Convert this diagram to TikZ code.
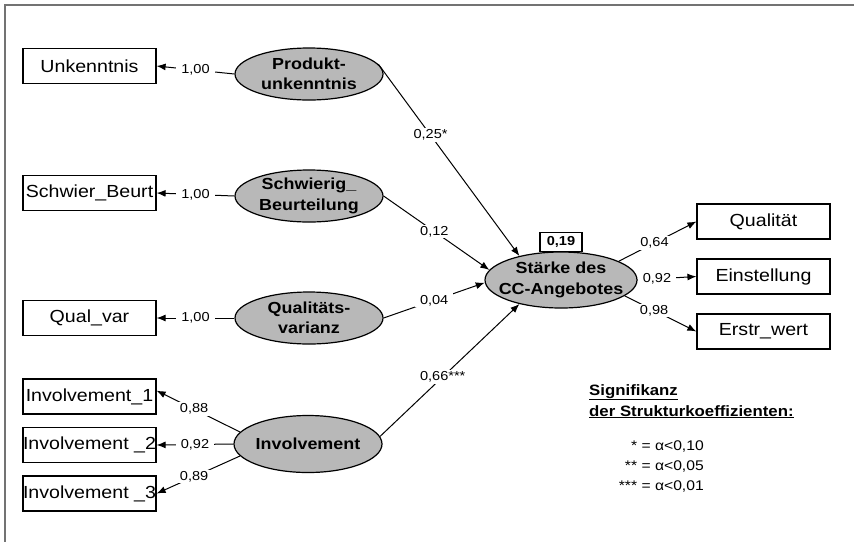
\documentclass[tikz,border=0pt]{standalone}
\usepackage{fontspec}
\setmainfont{Liberation Sans}[FakeStretch=1.12]
\usetikzlibrary{shapes.geometric,arrows.meta,positioning}
\tikzset{
  obs/.style={draw, rectangle, line width=1.2pt, minimum width=133pt, minimum height=35pt, inner sep=0pt, font=\fontsize{17.5}{20}\selectfont},
  latent/.style={draw, ellipse, fill=black!28, line width=1.2pt, minimum width=148pt, minimum height=52pt, inner xsep=-10pt, inner ysep=-8pt, align=center, font=\fontsize{16}{20.5}\selectfont\bfseries},
  coef/.style={fill=white, inner xsep=5pt, inner ysep=1.5pt, font=\fontsize{13}{14}\selectfont},
  pfeil/.style={line width=1pt, -{Latex[length=9pt,width=7pt]}},
}
\begin{document}
\begin{tikzpicture}[x=1pt, y=-1pt]
	\useasboundingbox (0,0) rectangle (854,542);
	\draw[black!55, line width=1.5pt] (854,5) -- (5,5) -- (5,542);
	% latente Variablen
	\node[latent] (prod) at (309,74) {Produkt-\\unkenntnis};
	\node[latent] (schw) at (309,196) {Schwierig\_\\Beurteilung};
	\node[latent] (qvar) at (309,318) {Qualitäts-\\varianz};
	\node[latent, minimum height=57pt] (inv) at (308,444) {Involvement};
	\node[latent, minimum width=152pt, minimum height=56pt] (cc) at (561,280) {Stärke des\\CC-Angebotes};
	\node[draw, fill=white, line width=1.2pt, inner sep=0pt, minimum width=42pt, minimum height=19pt, font=\fontsize{13}{14}\selectfont\bfseries, above=-1pt of cc] (rsq) {0,19};
	% Indikatoren
	\node[obs] (unk) at (89.5,66) {Unkenntnis};
	\node[obs] (beurt) at (89.5,193) {Schwier\_Beurt};
	\node[obs] (qual_var) at (89.5,318) {Qual\_var};
	\node[obs] (inv1) at (89.5,396.5) {Involvement\_1};
	\node[obs] (inv2) at (89.5,445) {Involvement \_2};
	\node[obs] (inv3) at (89.5,493.5) {Involvement \_3};
	\node[obs] (qual) at (763.5,221.5) {Qualität};
	\node[obs] (einst) at (763.5,276.5) {Einstellung};
	\node[obs] (erstr) at (763.5,331.5) {Erstr\_wert};
	% Messmodelle
	\draw[pfeil] (prod.west) -- node[coef]{1,00} (unk.east);
	\draw[pfeil] (schw.west) -- node[coef]{1,00} (beurt.east);
	\draw[pfeil] (qvar.west) -- node[coef]{1,00} (qual_var.east);
	\draw[pfeil] (inv.170) -- node[coef, pos=.55]{0,88} (inv1.5);
	\draw[pfeil] (inv.west) -- node[coef]{0,92} (inv2.east);
	\draw[pfeil] (inv.190) -- node[coef, pos=.55]{0,89} (inv3.east);
	\draw[pfeil] (cc.18) -- node[coef, pos=.46]{0,64} (qual.west);
	\draw[pfeil] (cc.east) -- node[coef, pos=.33]{0,92} (einst.west);
	\draw[pfeil] (cc.-14) -- node[coef, pos=.41]{0,98} (erstr.west);
	% Strukturmodell
	\draw[pfeil] (prod.8) -- node[coef, pos=.37]{0,25*} (cc.150);
	\draw[pfeil] (schw.east) -- node[coef, pos=.48]{0,12} (cc.172);
	\draw[pfeil] (qvar.east) -- node[coef, pos=.5]{0,04} (cc.182);
	\draw[pfeil] (inv.6) -- node[coef, pos=.45]{0,66***} (cc.210);
	% Legende
	\node[anchor=north west, align=left, inner sep=0pt, font=\fontsize{15}{21}\selectfont\bfseries] (sig) at (589,384) {\underline{Signifikanz}\\\underline{der Strukturkoeffizienten:}};
	\node[anchor=north east, align=right, inner sep=0pt, font=\fontsize{14}{20}\selectfont] (alpha) at (704,441) {* = α<0,10\\** = α<0,05\\*** = α<0,01};
\end{tikzpicture}
\end{document}
